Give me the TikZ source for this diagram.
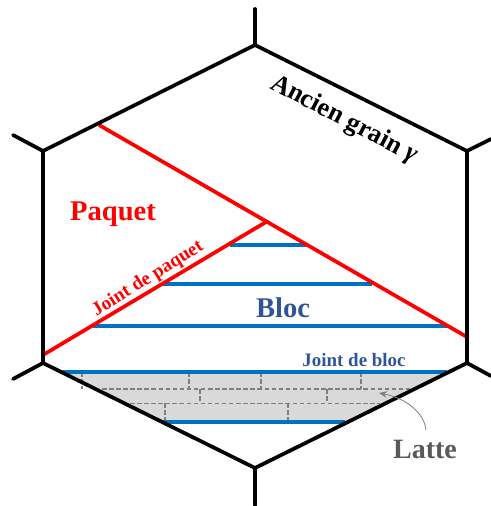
\documentclass[tikz,border=0pt]{standalone}
\usepackage{fontspec}
\usetikzlibrary{arrows.meta}
\setmainfont{Liberation Serif}
\definecolor{redj}{RGB}{255,0,0}
\definecolor{bluej}{RGB}{0,112,192}
\definecolor{bluet}{RGB}{47,85,151}
\definecolor{grayt}{RGB}{89,89,89}
\definecolor{grayd}{RGB}{127,127,127}
\definecolor{fillg}{RGB}{217,217,217}
\tikzset{
  grain/.style={black,line width=2.8pt,line cap=round,line join=miter},
  paquetj/.style={redj,line width=2.8pt},
  blocj/.style={bluej,line width=2.4pt},
  lath/.style={grayd,line width=1.1pt,dash pattern=on 3.4pt off 1.9pt},
  lbl/.style={font=\bfseries,inner sep=0pt}
}
\begin{document}
\begin{tikzpicture}[x=0.75pt,y=-0.75pt]
\useasboundingbox (0,0) rectangle (490,506);
% lath area
\coordinate (LA) at (62,372); \coordinate (LB) at (447,372);
\coordinate (LC) at (345,422); \coordinate (LD) at (163,422);
\fill[fillg] (LA) -- (LB) -- (LC) -- (LD) -- cycle;
\foreach \x in {82,189,261,361} \draw[lath] (\x,372) -- (\x,389);
\foreach \x in {200,327} \draw[lath] (\x,389) -- (\x,403);
\foreach \x in {165,288} \draw[lath] (\x,403) -- (\x,422);
\draw[lath] (102,389) -- (412,389);
\draw[lath] (130,403.5) -- (380,403.5);
% block boundaries
\draw[blocj] (230,245) -- (306,245);
\draw[blocj] (163,284) -- (372,284);
\draw[blocj] (93,326) -- (447,326);
\draw[blocj] (LA) -- (LB);
\draw[blocj] (LD) -- (LC);
% packet boundaries
\coordinate (P1) at (99,125); \coordinate (P2) at (467,337);
\coordinate (P3) at (43,355); \coordinate (P4) at (266,222);
\draw[paquetj] (P1) -- (P2);
\draw[paquetj] (P3) -- (P4);
% grain
\coordinate (T) at (255,45); \coordinate (RT) at (467,151);
\coordinate (RB) at (467,363); \coordinate (B) at (255,468);
\coordinate (LB2) at (43,363); \coordinate (LT) at (43,151);
\draw[grain] (T) -- (RT) -- (RB) -- (B) -- (LB2) -- (LT) -- cycle;
\draw[grain] (T) -- (255,9);
\draw[grain] (B) -- (255,505);
\draw[grain] (LT) -- (13,135);
\draw[grain] (LB2) -- (13,379);
\draw[grain] (RT) -- (491,139);
\draw[grain] (RB) -- (491,376);
% labels
\node[lbl,rotate=-27.5,font=\bfseries\fontsize{19.6}{22}\selectfont] (ancien) at (344,120) {Ancien grain \textit{γ}};
\node[lbl,text=redj,font=\bfseries\fontsize{21.4}{24}\selectfont] (paquet) at (113,214) {Paquet};
\node[lbl,text=bluet,font=\bfseries\fontsize{21.4}{24}\selectfont] (bloc) at (283,308) {Bloc};
\node[lbl,text=redj,rotate=32,font=\bfseries\fontsize{14.4}{16}\selectfont] (jp) at (148,279) {Joint de paquet};
\node[lbl,text=bluet,font=\bfseries\fontsize{14.2}{16}\selectfont] (jb) at (354,360) {Joint de bloc};
\node[lbl,text=grayt,font=\bfseries\fontsize{21}{24}\selectfont] (latte) at (425,449) {Latte};
\coordinate (tip) at (379,393);
\draw[grayd,line width=0.6pt,-{Stealth[length=6pt,width=5pt]}] (426,430) .. controls (424,412) and (405,398) .. (tip);
\end{tikzpicture}
\end{document}
